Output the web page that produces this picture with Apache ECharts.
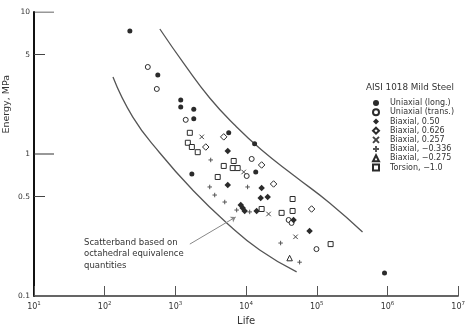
<!DOCTYPE html>
<html lang="en">
<head>
<meta charset="UTF-8">
<title>AISI 1018 Mild Steel - Energy vs Life</title>
<style>
    html, body {margin: 0; padding: 0; background: #fff;}
    #chart {width: 468px; height: 331px;}
</style>
</head>
<body>
<div id="chart"></div>
<script src="https://cdn.jsdelivr.net/npm/echarts@6/dist/echarts.min.js"></script>
<script>
// [life (cycles), energy (MPa)]
const uniaxialLong = [[227, 7.35], [564, 3.60], [1190, 2.40], [1190, 2.14], [1820, 2.07], [1820, 1.77],
    [5680, 1.41], [13200, 1.18], [1710, 0.723], [13700, 0.747], [908000, 0.145]];
const uniaxialTrans = [[407, 4.10], [546, 2.87], [1400, 1.74], [12000, 0.923], [10200, 0.700],
    [40000, 0.343], [44000, 0.327], [99000, 0.214]];
const biaxial050 = [[5500, 1.05], [5500, 0.605], [16600, 0.577], [16100, 0.490], [20200, 0.498],
    [8400, 0.438], [8960, 0.417], [9550, 0.397], [14100, 0.397], [47000, 0.343], [79000, 0.287]];
const biaxial0626 = [[2690, 1.12], [4830, 1.32], [16600, 0.837], [24500, 0.615], [84500, 0.410]];
const biaxial0257 = [[2360, 1.32], [9250, 0.747], [20800, 0.378], [50100, 0.261]];
const biaxialM0336 = [[3160, 0.908], [3060, 0.586], [3600, 0.514], [4990, 0.459], [7360, 0.403],
    [11250, 0.391], [10500, 0.586], [30800, 0.236], [57200, 0.173]];
const biaxialM0275 = [[41300, 0.185]];
const torsion = [[1600, 1.41], [1500, 1.20], [1710, 1.12], [2070, 1.03], [4830, 0.824], [6680, 0.893],
    [6470, 0.796], [7600, 0.796], [3970, 0.689], [16600, 0.410], [31800, 0.385], [45500, 0.397],
    [45500, 0.482], [157000, 0.232]];

// scatterband limits
const bandUpper = [[603, 7.59], [1360, 4.24], [3060, 2.48], [6900, 1.60], [16600, 1.067],
    [48500, 0.700], [152000, 0.452], [444000, 0.282]];
const bandLower = [[131, 3.48], [250, 1.82], [603, 1.016], [1760, 0.557], [5320, 0.327],
    [15600, 0.211], [51900, 0.148]];
const arrowFrom = [1600, 0.232];
const arrowTo = [7130, 0.360];

const xTicks = [10, 100, 1000, 10000, 100000, 1000000, 10000000];
const yLabels = [0.1, 0.5, 1, 5, 10];
const yShortTicks = [0.5, 5];
const yLongTicks = [1, 10];
const yLongTickEnd = 19.2; // life value where the long y ticks stop

const names = ['Uniaxial (long.)', 'Uniaxial (trans.)', 'Biaxial, 0.50', 'Biaxial, 0.626',
    'Biaxial, 0.257', 'Biaxial, \u22120.336', 'Biaxial, \u22120.275', 'Torsion, \u22121.0'];

const ink = '#2b2b2b';
const font = 'DejaVu Sans';
const crossPath = 'path://M0,0L10,10M10,0L0,10';
const plusPath = 'path://M5,0L5,10M0,5L10,5';

function scatter(name, data, symbol, size, filled, strokeColor) {
    return {
        name: name, type: 'scatter', data: data, symbol: symbol, symbolSize: size,
        itemStyle: {
            color: filled ? ink : '#fff',
            borderColor: strokeColor || ink,
            borderWidth: filled ? 0 : 1,
            opacity: 1
        },
        z: 3
    };
}

// long y-axis ticks drawn as short line series
const longTickSeries = yLongTicks.map(function (v) {
    return {
        name: 'tick ' + v, type: 'line', data: [[10, v], [yLongTickEnd, v]], showSymbol: false,
        lineStyle: {color: '#333', width: 1.2}, silent: true, z: 4
    };
});

const chart = echarts.init(document.getElementById('chart'));
chart.setOption({
    animation: false,
    title: {
        text: 'AISI 1018 Mild Steel', left: 366, top: 83, padding: 0,
        textStyle: {fontFamily: font, fontSize: 8.8, fontWeight: 'normal', color: '#333'}
    },
    legend: {
        data: names, orient: 'vertical', left: 372, top: 98.5, padding: 0,
        itemWidth: 6, itemHeight: 6, itemGap: 0,
        textStyle: {fontFamily: font, fontSize: 8, color: '#333', lineHeight: 9.2, padding: [0, 0, 0, 6]}
    },
    grid: {left: 34, right: 9, top: 12, bottom: 35},
    xAxis: {
        type: 'log', min: 10, max: 10000000,
        name: 'Life', nameLocation: 'middle', nameGap: 20,
        nameTextStyle: {fontFamily: font, fontSize: 10, color: '#333'},
        axisLine: {lineStyle: {color: '#333', width: 1.6}},
        axisTick: {inside: true, length: 10, customValues: xTicks, lineStyle: {color: '#555'}},
        axisLabel: {
            customValues: xTicks, margin: 5, color: '#333', fontFamily: font, fontSize: 8,
            formatter: function (v) { return '10{s|' + Math.round(Math.log10(v)) + '}'; },
            rich: {s: {fontSize: 5.5, fontFamily: font, color: '#333', padding: [0, 0, 5, 0]}}
        },
        splitLine: {show: false}, minorTick: {show: false}
    },
    yAxis: {
        type: 'log', min: 0.1, max: 10,
        axisLine: {lineStyle: {color: '#111', width: 2}},
        axisTick: {inside: true, length: 11, customValues: yShortTicks, lineStyle: {color: '#444'}},
        axisLabel: {
            customValues: yLabels, margin: 4, color: '#333', fontFamily: font, fontSize: 7.5,
            formatter: function (v) { return String(v); }
        },
        splitLine: {show: false}, minorTick: {show: false}
    },
    graphic: [{
        type: 'text', left: 2, top: 75, rotation: Math.PI / 2,
        style: {text: 'Energy, MPa', fontFamily: font, fontSize: 9.5, fill: '#333'}
    }, {
        type: 'text', left: 84, top: 237,
        style: {
            text: 'Scatterband based on\noctahedral equivalence\nquantities',
            fontFamily: font, fontSize: 8.5, lineHeight: 11.5, fill: '#333'
        }
    }],
    series: [
        scatter(names[0], uniaxialLong, 'circle', 5, true),
        scatter(names[1], uniaxialTrans, 'circle', 5, false),
        scatter(names[2], biaxial050, 'diamond', 6.5, true),
        scatter(names[3], biaxial0626, 'diamond', 6.5, false),
        scatter(names[4], biaxial0257, crossPath, 4.5, false, '#444'),
        scatter(names[5], biaxialM0336, plusPath, 4.5, false, '#555'),
        scatter(names[6], biaxialM0275, 'triangle', 5.5, false),
        scatter(names[7], torsion, 'rect', 5, false),
        {
            name: 'upper band', type: 'line', data: bandUpper, smooth: true, showSymbol: false,
            lineStyle: {color: '#555', width: 1.3}, silent: true, z: 2
        },
        {
            name: 'lower band', type: 'line', data: bandLower, smooth: true, showSymbol: false,
            lineStyle: {color: '#555', width: 1.3}, silent: true, z: 2,
            markLine: {
                silent: true, symbol: ['none', 'arrow'], symbolSize: 5,
                lineStyle: {color: '#888', width: 1, type: 'solid'},
                label: {show: false},
                data: [[{coord: arrowFrom}, {coord: arrowTo}]]
            }
        }
    ].concat(longTickSeries)
});
</script>
</body>
</html>
